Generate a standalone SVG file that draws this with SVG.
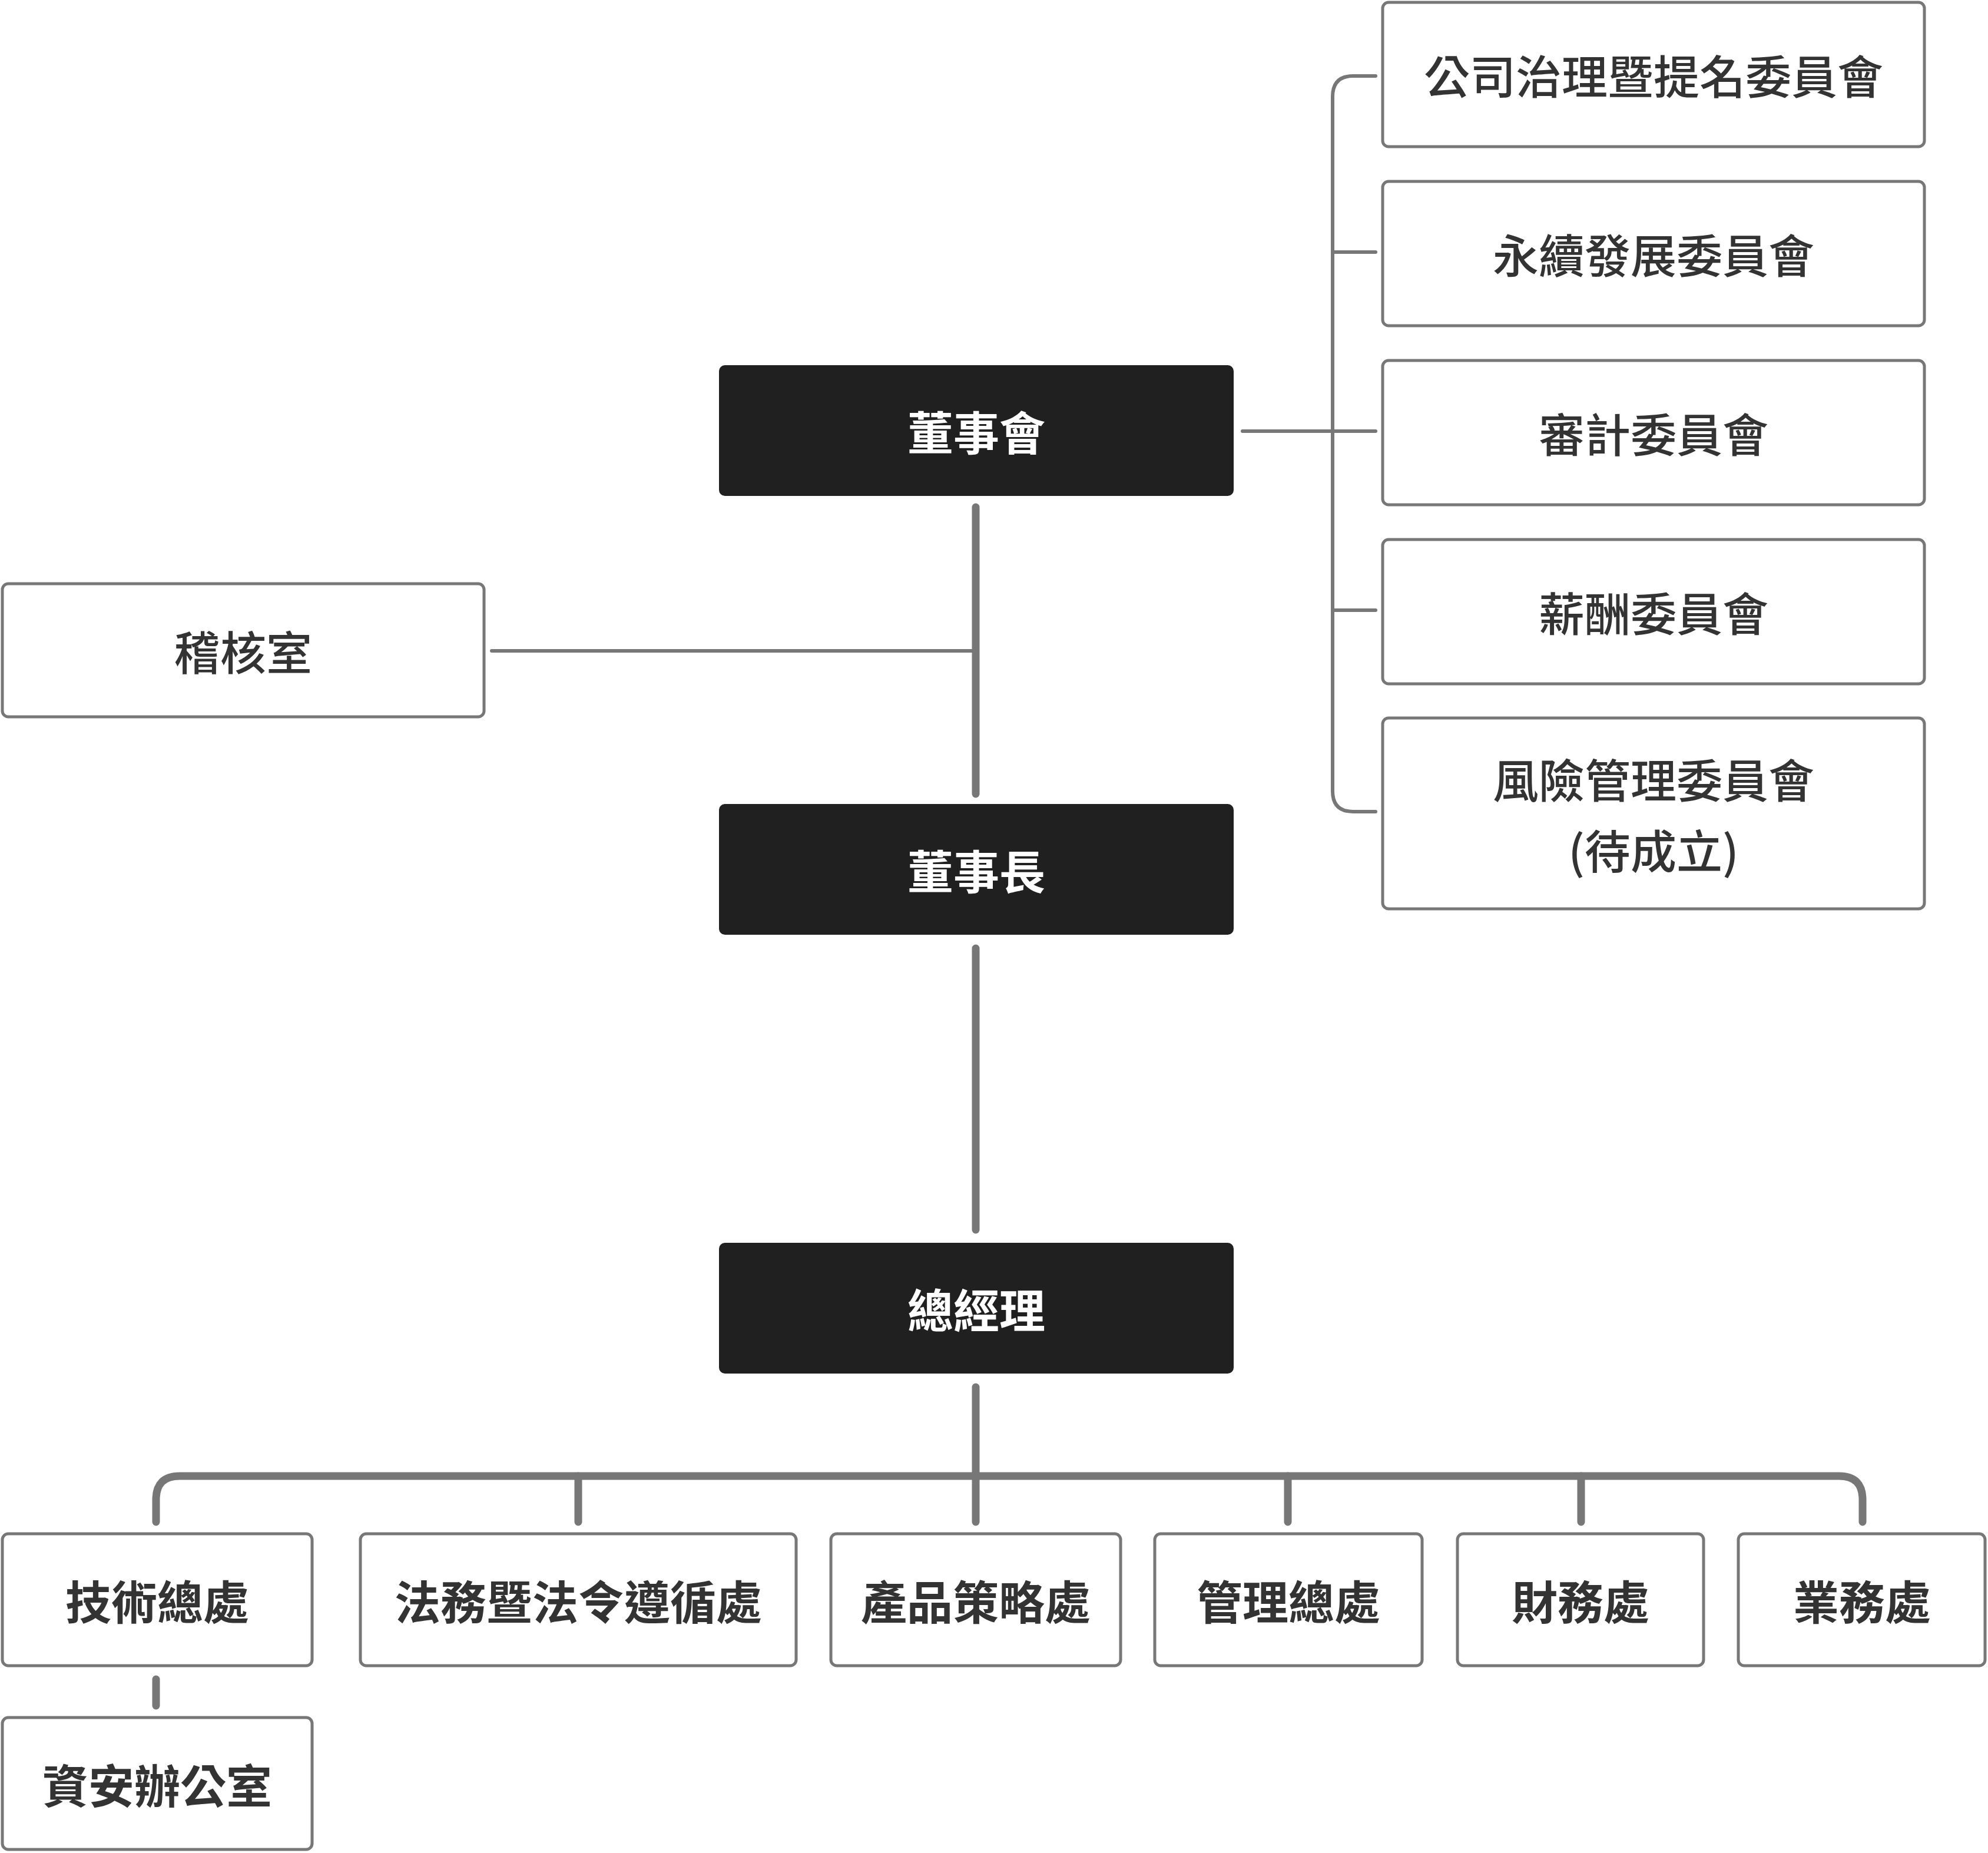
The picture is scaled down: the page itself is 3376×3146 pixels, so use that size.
<svg xmlns="http://www.w3.org/2000/svg" width="3376" height="3146" viewBox="0 0 3376 3146">
<style>
.box{fill:#fff;stroke:#777;stroke-width:5}
.dark{fill:#202020}
.t{font-family:"Noto Sans CJK TC","Noto Sans CJK SC",sans-serif;font-size:78px;fill:#333;text-anchor:middle;dominant-baseline:central}
.r{font-weight:500}
.b{font-weight:700}
.w{fill:#fff;font-weight:700}
.thin{fill:none;stroke:#777;stroke-width:6;stroke-linecap:round}
.thick{fill:none;stroke:#777;stroke-width:13;stroke-linecap:round}
</style>
<rect width="3376" height="3146" fill="#fff"/>
<g id="connectors">
<path class="thin" d="M2336 129 H2298 Q2263 129 2263 164 V1343 Q2263 1378 2298 1378 H2336"/>
<path class="thin" d="M2263 428 H2336 M2263 1036 H2336 M2110 732 H2336"/>
<path class="thin" d="M835 1105 H1657"/>
<path class="thick" d="M1657 861 V1348"/>
<path class="thick" d="M1657 1610 V2088"/>
<path class="thick" d="M1657 2355 V2584"/>
<path class="thick" d="M265 2584 V2546 Q265 2506 305 2506 H3123 Q3163 2506 3163 2546 V2584"/>
<path class="thick" d="M982 2506 V2584 M2187 2506 V2584 M2685 2506 V2584"/>
<path class="thick" d="M265 2851 V2896"/>
</g>
<g id="n-board"><rect class="dark" x="1221" y="620" width="874" height="222" rx="10"/><text class="t w" x="1658" y="731">董事會</text></g>
<g id="n-chair"><rect class="dark" x="1221" y="1365" width="874" height="222" rx="10"/><text class="t w" x="1658" y="1476">董事長</text></g>
<g id="n-gm"><rect class="dark" x="1221" y="2110" width="874" height="222" rx="10"/><text class="t w" x="1658" y="2221">總經理</text></g>
<g id="n-audit"><rect class="box" x="4" y="991" width="818" height="226" rx="10"/><text class="t r" x="413" y="1104">稽核室</text></g>
<g id="n-c1"><rect class="box" x="2348" y="4" width="920" height="245" rx="10"/><text class="t r" x="2808" y="126">公司治理暨提名委員會</text></g>
<g id="n-c2"><rect class="box" x="2348" y="308" width="920" height="245" rx="10"/><text class="t r" x="2808" y="430">永續發展委員會</text></g>
<g id="n-c3"><rect class="box" x="2348" y="612" width="920" height="245" rx="10"/><text class="t r" x="2808" y="734">審計委員會</text></g>
<g id="n-c4"><rect class="box" x="2348" y="916" width="920" height="245" rx="10"/><text class="t r" x="2808" y="1038">薪酬委員會</text></g>
<g id="n-c5"><rect class="box" x="2348" y="1219" width="920" height="324" rx="10"/><text class="t r" x="2808" y="1321">風險管理委員會</text><text class="t r" x="2808" y="1441">(待成立)</text></g>
<g id="n-tech"><rect class="box" x="4" y="2604" width="526" height="224" rx="10"/><text class="t b" x="267" y="2716">技術總處</text></g>
<g id="n-legal"><rect class="box" x="612" y="2604" width="740" height="224" rx="10"/><text class="t b" x="982" y="2716">法務暨法令遵循處</text></g>
<g id="n-prod"><rect class="box" x="1411" y="2604" width="492" height="224" rx="10"/><text class="t b" x="1657" y="2716">產品策略處</text></g>
<g id="n-mgmt"><rect class="box" x="1961" y="2604" width="454" height="224" rx="10"/><text class="t b" x="2188" y="2716">管理總處</text></g>
<g id="n-fin"><rect class="box" x="2475" y="2604" width="418" height="224" rx="10"/><text class="t b" x="2684" y="2716">財務處</text></g>
<g id="n-sales"><rect class="box" x="2952" y="2604" width="419" height="224" rx="10"/><text class="t b" x="3162" y="2716">業務處</text></g>
<g id="n-sec"><rect class="box" x="4" y="2916" width="526" height="224" rx="10"/><text class="t b" x="267" y="3028">資安辦公室</text></g>
</svg>
